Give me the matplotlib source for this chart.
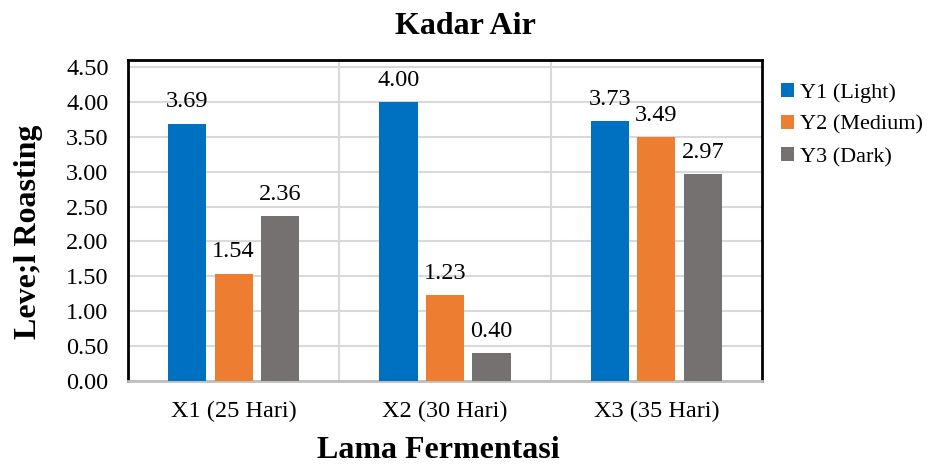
import matplotlib
matplotlib.use("Agg")
import matplotlib.pyplot as plt
import numpy as np

categories = ["X1 (25 Hari)", "X2 (30 Hari)", "X3 (35 Hari)"]
series_names = ["Y1 (Light)", "Y2 (Medium)", "Y3 (Dark)"]
y1 = [3.69, 4.00, 3.73]
y2 = [1.54, 1.23, 3.49]
y3 = [2.36, 0.40, 2.97]
colors = ["#0070C0", "#ED7D31", "#767171"]
yticks = [0.0, 0.5, 1.0, 1.5, 2.0, 2.5, 3.0, 3.5, 4.0, 4.5]

plt.rcParams['font.family'] = ['Liberation Serif', 'DejaVu Serif']

fig = plt.figure(figsize=(9.3, 4.67), dpi=100)
ax = fig.add_axes([128/930, 1-381/467, (762-128)/930, (381-60)/467])

x = np.arange(len(categories))
w = 0.18
offs = [-0.22, 0.0, 0.22]
for vals, name, c, o in zip([y1, y2, y3], series_names, colors, offs):
    bars = ax.bar(x + o, vals, w, color=c, label=name, zorder=3)
    for b, v in zip(bars, vals):
        ax.annotate(f"{v:.2f}", (b.get_x() + b.get_width()/2, v),
                    xytext=(0, 8), textcoords="offset points",
                    ha="center", va="bottom", fontsize=17.5)

ax.set_xlim(-0.5, 2.5)
ax.set_ylim(0, 4.6)
ax.set_yticks(yticks)
ax.set_yticklabels([f"{t:.2f}" for t in yticks], fontsize=17.5)
ax.set_xticks(x)
ax.set_xticklabels(categories, fontsize=17.5)
ax.set_xticks([0.5, 1.5], minor=True)
ax.tick_params(axis='both', which='both', length=0)
ax.tick_params(axis='x', pad=14)
ax.tick_params(axis='y', pad=14)
ax.grid(axis='y', color='#D9D9D9', linewidth=1.5, zorder=0)
ax.grid(axis='x', which='minor', color='#D9D9D9', linewidth=1.5, zorder=0)
ax.set_axisbelow(True)

for s in ['left', 'top', 'right']:
    ax.spines[s].set_color('black')
    ax.spines[s].set_linewidth(2)
ax.spines['bottom'].set_color('#BFBFBF')
ax.spines['bottom'].set_linewidth(2)

fig.text(0.5, 1-27/467, "Kadar Air", fontsize=23, fontweight='bold', ha='center', va='center')
ax.set_xlabel("Lama Fermentasi", fontsize=23, fontweight='bold')
ax.xaxis.set_label_coords((438-128)/(762-128), -(450-381)/(381-60))
ax.xaxis.label.set_va('center')
ax.set_ylabel("Leve;l Roasting", fontsize=23, fontweight='bold')
ax.yaxis.set_label_coords(-(128-28)/(762-128), (381-232)/(381-60))
ax.yaxis.label.set_va('center')

leg = fig.legend(loc='upper left', bbox_to_anchor=(772/930, 1-74/467), frameon=False,
                 fontsize=16, handlelength=0.6, handleheight=0.6, handletextpad=0.25,
                 labelspacing=0.55, borderaxespad=0)

fig.savefig("out.png", dpi=100)
